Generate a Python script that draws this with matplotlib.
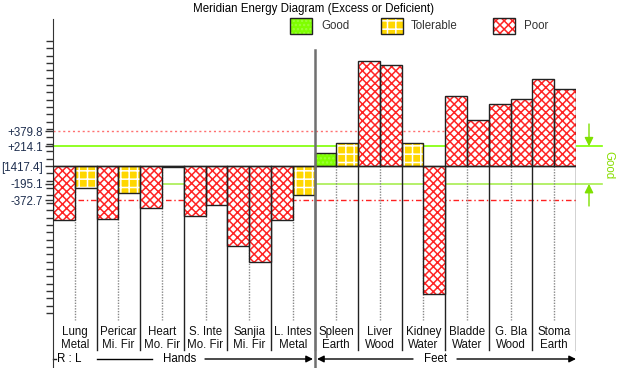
import matplotlib
matplotlib.use("Agg")
import matplotlib.pyplot as plt
from matplotlib.patches import Rectangle

plt.rcParams['font.family'] = ['Liberation Sans', 'DejaVu Sans']
plt.rcParams['hatch.linewidth'] = 1.1

# data: deviation from the mean (1417.4), right then left side of each meridian
organs = ["Lung", "Pericar", "Heart", "S. Inte", "Sanjia", "L. Intes",
          "Spleen", "Liver", "Kidney", "Bladde", "G. Bla", "Stoma"]
elements = ["Metal", "Mi. Fir", "Mo. Fir", "Mo. Fir", "Mi. Fir", "Metal",
            "Earth", "Wood", "Water", "Water", "Wood", "Earth"]
right_vals = [-587, -576, -453, -543, -870, -587, 138, 1141, 247, 757, 677, 949]
left_vals = [-239, -293, -8, -427, -1040, -315, 247, 1094, -1391, 500, 728, 833]
right_status = ["Poor", "Poor", "Poor", "Poor", "Poor", "Poor",
                "Good", "Poor", "Tolerable", "Poor", "Poor", "Poor"]
left_status = ["Tolerable", "Tolerable", "Good", "Poor", "Poor", "Tolerable",
               "Tolerable", "Poor", "Poor", "Poor", "Poor", "Poor"]
mean_value = "[1417.4]"
ref_lines = [379.8, 214.1, -195.1, -372.7]
ref_labels = ["+379.8", "+214.1", "-195.1", "-372.7"]

styles = {
    "Good": dict(face="#7FFF00", hatch="....", hc="#9CFF3A"),
    "Tolerable": dict(face="#FFD700", hatch="++", hc="white"),
    "Poor": dict(face="white", hatch="xxxx", hc="#FF2424"),
}
FS = 8.3

# geometry (pixels of the 622x368 picture)
W, H = 622, 368
K = 10.87            # value units per pixel
XS = 523 / 24        # pixels per half bar
Y0 = 166             # pixel row of the baseline


def ypx(p):
    return (Y0 - p) * K


def xpx(p):
    return (p - 53) / XS


fig = plt.figure(figsize=(W / 100, H / 100), dpi=100)
ax = fig.add_axes([53 / W, 0, 523 / W, (H - 19) / H])
ax.set_xlim(0, 24)
ax.set_ylim(ypx(H), ypx(19))
for s in ["top", "right", "bottom"]:
    ax.spines[s].set_visible(False)
ax.spines["left"].set_color("#333333")
ax.set_xticks([])

# reference lines
ax.plot([0, 24], [ref_lines[0]] * 2, color="#FF7070", lw=1, ls=(0, (1.5, 2)), zorder=1)
ax.plot([0, xpx(602)], [ref_lines[1]] * 2, color="#7FFF00", lw=1.2, zorder=1, clip_on=False)
ax.plot([0, xpx(602)], [ref_lines[2]] * 2, color="#A8EE50", lw=1.2, zorder=1, clip_on=False)
ax.plot([0, 24], [ref_lines[3]] * 2, color="#FF2020", lw=1, ls=(0, (4, 2, 1, 2)), zorder=1)

# separators
for g in range(1, 13):
    ax.plot([2 * g, 2 * g], [0, ypx(350)], color="#222222", lw=1, zorder=2)
for g in range(12):
    ax.plot([2 * g + 1] * 2, [0, ypx(320)], color="#888888", lw=1, ls=(0, (1, 1)), zorder=2)
ax.plot([12, 12], [ypx(50), ypx(H)], color="#707070", lw=1.8, zorder=5, clip_on=False)

# bars
for g in range(12):
    for side, vals, stat in ((0, right_vals, right_status), (1, left_vals, left_status)):
        st = styles[stat[g]]
        x = 2 * g + side
        ax.bar(x, vals[g], width=1, align="edge", color=st["face"], edgecolor=st["hc"],
               hatch=st["hatch"], linewidth=0, zorder=3)
        ax.bar(x, vals[g], width=1, align="edge", fill=False, edgecolor="#222222",
               linewidth=1, zorder=4)
ax.plot([0, 24], [0, 0], color="#222222", lw=1, zorder=4)

# y ticks
ax.set_yticks([ref_lines[0], ref_lines[1], 0, ref_lines[2], ref_lines[3]])
ax.set_yticklabels([ref_labels[0], ref_labels[1], mean_value, ref_labels[2], ref_labels[3]],
                   color="#1F2F4F", fontsize=FS)
ax.set_yticks([v * 80 for v in range(-20, 18)], minor=True)
ax.tick_params(axis="y", which="major", length=6, width=1, color="#333333", pad=1)
ax.tick_params(axis="y", which="minor", length=5, width=1, color="#333333")

# bottom labels
for g in range(12):
    ax.text(2 * g + 1, ypx(332), organs[g], ha="center", va="center", fontsize=FS, color="#111111")
    ax.text(2 * g + 1, ypx(345), elements[g], ha="center", va="center", fontsize=FS, color="#111111")

yr = ypx(359)
ax.plot([0, 0.15], [yr, yr], color="#222222", lw=1, clip_on=False)
ax.text(0.18, yr, "R : L", ha="left", va="center", fontsize=FS)
ax.plot([xpx(97), xpx(152)], [yr, yr], color="black", lw=1, clip_on=False)
ax.text(xpx(180), yr, "Hands", ha="center", va="center", fontsize=FS)
ax.annotate("", xy=(xpx(313), yr), xytext=(xpx(205), yr), annotation_clip=False,
            arrowprops=dict(arrowstyle="-|>", color="black", lw=1, mutation_scale=10,
                            shrinkA=0, shrinkB=0))
ax.annotate("", xy=(xpx(317), yr), xytext=(xpx(413), yr), annotation_clip=False,
            arrowprops=dict(arrowstyle="-|>", color="black", lw=1, mutation_scale=10,
                            shrinkA=0, shrinkB=0))
ax.text(xpx(436), yr, "Feet", ha="center", va="center", fontsize=FS)
ax.annotate("", xy=(24, yr), xytext=(xpx(457), yr), annotation_clip=False,
            arrowprops=dict(arrowstyle="-|>", color="black", lw=1, mutation_scale=10,
                            shrinkA=0, shrinkB=0))

# "Good" band marker on the right
gx = xpx(589)
ax.annotate("", xy=(gx, ref_lines[1]), xytext=(gx, ypx(124)), annotation_clip=False,
            arrowprops=dict(arrowstyle="-|>", color="#7FE000", lw=1, mutation_scale=13,
                            shrinkA=0, shrinkB=0))
ax.annotate("", xy=(gx, ref_lines[2]), xytext=(gx, ypx(206)), annotation_clip=False,
            arrowprops=dict(arrowstyle="-|>", color="#7FE000", lw=1, mutation_scale=13,
                            shrinkA=0, shrinkB=0))
ax.text(xpx(608), (ref_lines[1] + ref_lines[2]) / 2, "Good", rotation=270, ha="center",
        va="center", fontsize=FS, color="#88DD00", clip_on=False)

# title and legend
fig.text(314 / W, 1 - 9 / H, "Meridian Energy Diagram (Excess or Deficient)",
         ha="center", va="center", fontsize=FS)
legend = [("Good", 290, 321), ("Tolerable", 381, 411), ("Poor", 493, 524)]
for name, bx, tx in legend:
    st = styles[name]
    fig.patches.append(Rectangle((bx / W, 1 - 34 / H), 22 / W, 16 / H, transform=fig.transFigure,
                                 facecolor=st["face"], edgecolor=st["hc"], hatch=st["hatch"],
                                 linewidth=0))
    fig.patches.append(Rectangle((bx / W, 1 - 34 / H), 22 / W, 16 / H, transform=fig.transFigure,
                                 fill=False, edgecolor="#222222", linewidth=1))
    fig.text(tx / W, 1 - 26 / H, name, ha="left", va="center", fontsize=FS, color="#333333")

fig.savefig("out.png", dpi=100)
